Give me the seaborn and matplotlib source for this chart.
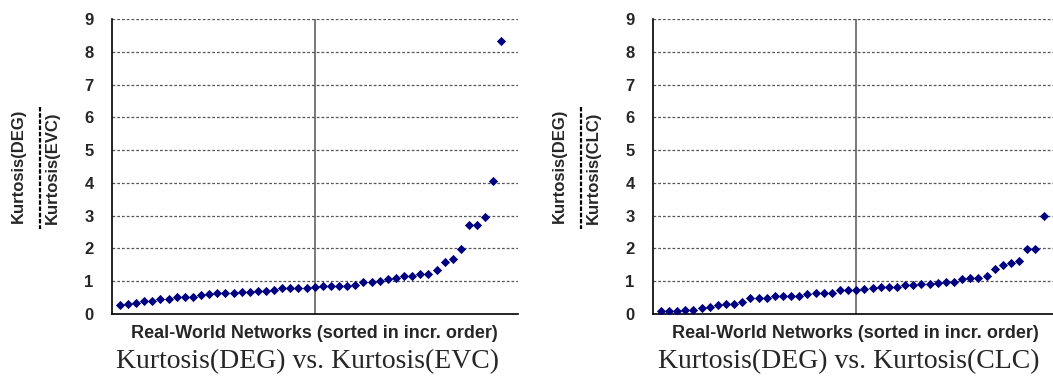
import numpy as np
import pandas as pd
import matplotlib
matplotlib.use("Agg")
import matplotlib.pyplot as plt
from matplotlib.lines import Line2D
from matplotlib.ticker import MultipleLocator
import seaborn as sns

# Kurtosis ratios for the real-world networks, sorted in increasing order
ratio_evc = [0.27, 0.32, 0.34, 0.40, 0.40, 0.46, 0.46, 0.51, 0.51, 0.53,
             0.58, 0.62, 0.64, 0.64, 0.64, 0.66, 0.68, 0.70, 0.71, 0.74,
             0.78, 0.78, 0.78, 0.80, 0.81, 0.84, 0.84, 0.84, 0.86, 0.87,
             0.97, 0.99, 1.00, 1.08, 1.10, 1.15, 1.16, 1.21, 1.21, 1.33,
             1.60, 1.69, 1.97, 2.73, 2.73, 2.97, 4.06, 8.32]
ratio_clc = [0.10, 0.10, 0.10, 0.11, 0.13, 0.19, 0.21, 0.26, 0.31, 0.32,
             0.37, 0.48, 0.49, 0.49, 0.54, 0.54, 0.54, 0.56, 0.61, 0.63,
             0.64, 0.65, 0.72, 0.72, 0.74, 0.76, 0.78, 0.82, 0.82, 0.83,
             0.88, 0.89, 0.93, 0.93, 0.95, 0.99, 0.99, 1.08, 1.09, 1.10,
             1.16, 1.37, 1.48, 1.57, 1.63, 1.97, 1.98, 2.98]
y_ticks = list(range(0, 10))
x_label = "Real-World Networks (sorted in incr. order)"
panel_titles = ["Kurtosis(DEG) vs. Kurtosis(EVC)", "Kurtosis(DEG) vs. Kurtosis(CLC)"]
numerators = ["Kurtosis(DEG)", "Kurtosis(DEG)"]
denominators = ["Kurtosis(EVC)", "Kurtosis(CLC)"]

sns.set_style("white")
plt.rcParams["font.family"] = ["Liberation Sans", "DejaVu Sans"]

W, H = 1053, 379
fig = plt.figure(figsize=(W / 100, H / 100), dpi=100)

def fx(px):
    return px / W

def fy(py):
    return 1 - py / H

panels = [
    dict(data=ratio_evc, left=111.7, right=517.7, xmax=50.0, off=0),
    dict(data=ratio_clc, left=652.7, right=1053.0, xmax=49.15, off=541),
]

for i, p in enumerate(panels):
    ax = fig.add_axes([fx(p["left"]), fy(314), fx(p["right"] - p["left"]), (314 - 19) / H])
    df = pd.DataFrame({"network": np.arange(1, len(p["data"]) + 1), "ratio": p["data"]})

    for yv in y_ticks[1:]:
        ax.axhline(yv, color="#555555", lw=0.9, ls=(0, (2.2, 1.6)), zorder=1)
    ax.axvline(25, color="#555555", lw=1.1, zorder=1)

    sns.scatterplot(data=df, x="network", y="ratio", marker="D", s=22,
                    color="#000080", linewidth=0, ax=ax, zorder=3)

    ax.set_xlim(0, p["xmax"])
    ax.set_ylim(0, 9)
    ax.set_yticks(y_ticks)
    ax.set_yticklabels([str(v) for v in y_ticks], fontsize=12, fontweight="bold")
    ax.xaxis.set_major_locator(MultipleLocator(5))
    ax.xaxis.set_minor_locator(MultipleLocator(1))
    ax.set_xticklabels([])
    ax.tick_params(axis="x", which="major", direction="out", length=5, width=1, color="black")
    ax.tick_params(axis="x", which="minor", direction="out", length=3, width=1, color="black")
    ax.tick_params(axis="y", which="major", direction="out", length=5, width=1,
                   color="black", pad=8)
    ax.set_xlabel("")
    ax.set_ylabel("")
    for side in ["top", "right"]:
        ax.spines[side].set_visible(False)
    for side in ["left", "bottom"]:
        ax.spines[side].set_color("black")
        ax.spines[side].set_linewidth(1.2)

    # axis label written as a fraction
    off = p["off"]
    fig.text(fx(18 + off), fy(166), numerators[i], rotation=90, ha="center", va="center",
             fontsize=12, fontweight="bold")
    fig.text(fx(52 + off), fy(168), denominators[i], rotation=90, ha="center", va="center",
             fontsize=12, fontweight="bold")
    fig.add_artist(Line2D([fx(40 + off), fx(40 + off)], [fy(107), fy(229)],
                          color="black", lw=1.6, ls=(0, (2.0, 0.8))))

    cx = 314 if i == 0 else 855
    fig.text(fx(cx), fy(333), x_label, ha="center", va="center",
             fontsize=13, fontweight="bold")
    fig.text(fx(cx - 6), fy(362), panel_titles[i], ha="center", va="center",
             fontsize=20, family=["Liberation Serif", "DejaVu Serif"])

fig.savefig("out.png", dpi=100)
